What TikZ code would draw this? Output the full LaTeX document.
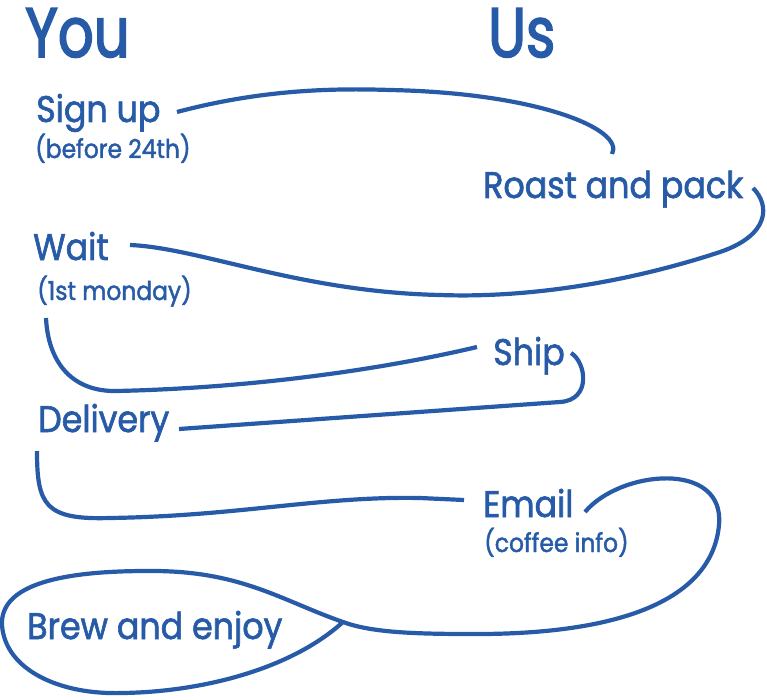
\documentclass[tikz,border=0pt]{standalone}
\usepackage{fontspec}
\setmainfont[FakeStretch=0.9,FakeBold=1.7]{Poppins}
\newfontfamily\headfont[FakeStretch=0.8,FakeBold=2.2]{Poppins}
\definecolor{ink}{RGB}{39,91,167}
\begin{document}
\begin{tikzpicture}[x=1pt,y=-1pt,
  lbl/.style={inner sep=0pt, anchor=base west, text=ink, font=\fontsize{37}{40}\selectfont},
  sub/.style={inner sep=0pt, anchor=base west, text=ink, font=\fontsize{26}{28}\selectfont},
  head/.style={inner sep=0pt, anchor=base west, text=ink, font=\headfont\fontsize{70}{72}\selectfont},
  flow/.style={draw=ink, line width=4.2pt, line cap=butt}]
\useasboundingbox (0,0) rectangle (767,700);
% headings
\node[head] (you) at (25,57) {You};
\node[head] (us) at (488,57) {Us};
% steps
\node[lbl] (signup) at (36,122) {Sign up};
\node[sub] (signupn) at (35,158) {(before 24th)};
\node[lbl] (roast) at (483,198) {Roast and pack};
\node[lbl] (wait) at (33,260) {Wait};
\node[sub] (waitn) at (37,300) {(1st monday)};
\node[lbl] (ship) at (493,365) {Ship};
\node[lbl] (deliv) at (38,432) {Delivery};
\node[lbl] (email) at (483,517) {Email};
\node[sub] (emailn) at (484,552) {(coffee info)};
\node[lbl] (brew) at (27,639) {Brew and enjoy};
% connector ends
\coordinate (a1) at (177,112);
\coordinate (a2) at (612,154);
\coordinate (b1) at (753,188);
\coordinate (b2) at (130,245);
\coordinate (c1) at (46,318);
\coordinate (c2) at (477,347);
\coordinate (d1) at (571,353);
\coordinate (d2) at (179,429);
\coordinate (e1) at (37,451);
\coordinate (e2) at (464,500);
\coordinate (f1) at (585,512);
\coordinate (x) at (343,622);
% connectors
\draw[flow] (a1) .. controls (260,90) and (330,88) .. (390,90)
  .. controls (540,93) and (625,130) .. (a2);
\draw[flow] (b1) .. controls (770,205) and (770,235) .. (720,252)
  .. controls (620,285) and (520,298) .. (440,295)
  .. controls (300,292) and (200,248) .. (b2);
\draw[flow] (c1) .. controls (48,360) and (70,392) .. (117,391)
  .. controls (250,388) and (380,370) .. (c2);
\draw[flow] (d1) .. controls (586,362) and (592,400) .. (560,402) -- (d2);
\draw[flow] (e1) .. controls (37,505) and (45,520) .. (110,518)
  .. controls (240,516) and (320,496) .. (420,498) -- (e2);
\draw[flow] (f1) .. controls (620,470) and (725,460) .. (719,525)
  .. controls (712,600) and (620,635) .. (470,634)
  .. controls (410,634) and (370,632) .. (x)
  .. controls (280,600) and (240,570) .. (147,571)
  .. controls (60,571) and (0,585) .. (2,625)
  .. controls (5,670) and (60,695) .. (122,693)
  .. controls (200,692) and (290,670) .. (x);
\end{tikzpicture}
\end{document}
